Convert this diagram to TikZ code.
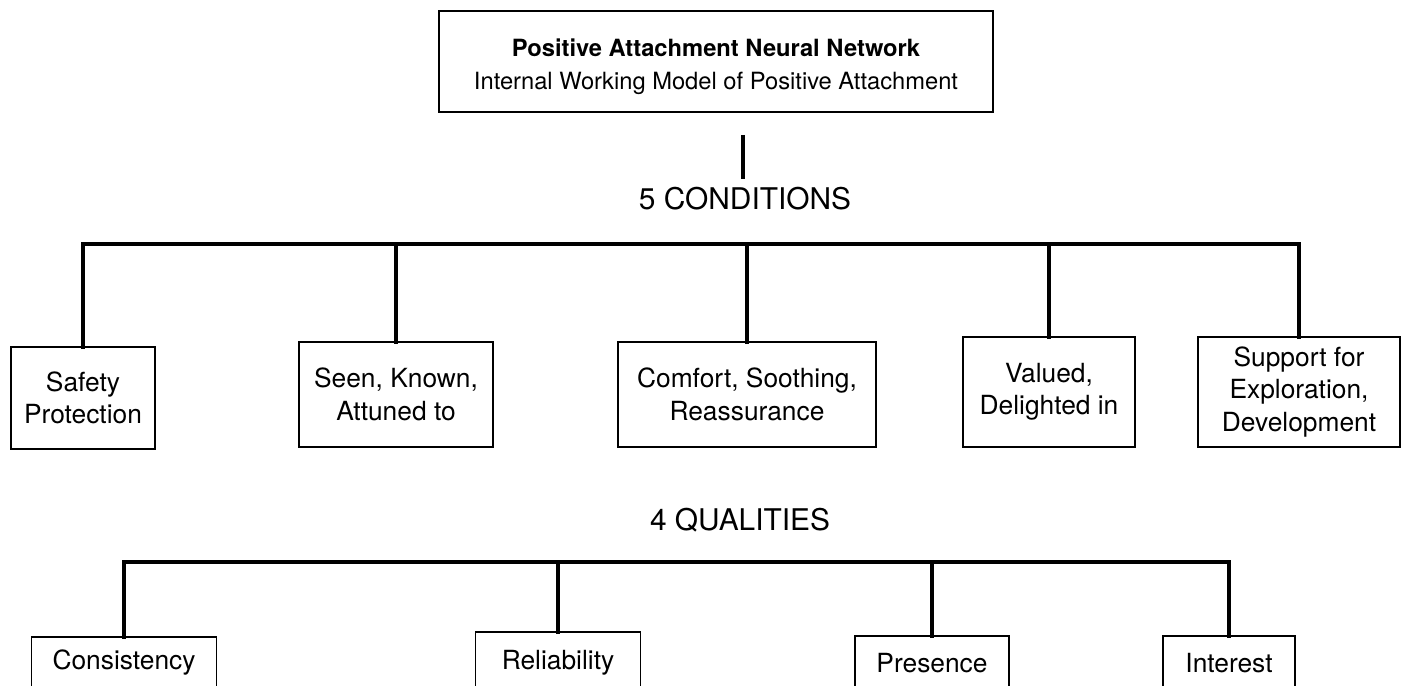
\documentclass[tikz,border=0pt]{standalone}
\usepackage{fontspec}
\setmainfont{TeX Gyre Heros}
\usetikzlibrary{positioning}

\tikzset{
    box/.style={draw, line width=1.1pt, align=center, inner sep=0pt,
        font=\fontsize{15}{18.5}\selectfont},
    headbox/.style={draw, line width=1.5pt, align=center, inner sep=0pt,
        font=\fontsize{13.5}{19}\selectfont},
    heading/.style={font=\fontsize{17}{20}\selectfont, inner sep=0pt},
    bus/.style={line width=2.8pt, line cap=rect},
}

\begin{document}
\begin{tikzpicture}[x=0.02cm, y=-0.02cm, line join=miter]
    % 画面の範囲
    \useasboundingbox (0,0) rectangle (1410,686);
    \clip (0,0) rectangle (1410,686);

    % 最上段
    \node[headbox, minimum width=11.08cm, minimum height=2.02cm] (network) at (716,61.5)
        {\rule{0pt}{16pt}{\bfseries Positive Attachment Neural Network}\\Internal Working Model of Positive Attachment};
    \coordinate (stemtop) at (743,135);
    \coordinate (stembot) at (743,179);
    \draw[line width=2.3pt] (stemtop) -- (stembot);

    % 5 CONDITIONS
    \node[heading] (conditions) at (745,199) {5 CONDITIONS};
    \coordinate (condbus) at (0,244);

    \node[box, minimum width=2.88cm, minimum height=2.04cm] (safety) at (83,398) {Safety\\Protection};
    \node[box, minimum width=3.88cm, minimum height=2.10cm] (seen) at (396,394.5) {Seen, Known,\\Attuned to};
    \node[box, minimum width=5.16cm, minimum height=2.10cm] (comfort) at (747,394.5) {Comfort, Soothing,\\Reassurance};
    \node[box, minimum width=3.44cm, minimum height=2.20cm] (valued) at (1049,392) {Valued,\\Delighted in};
    \node[box, minimum width=4.04cm, minimum height=2.20cm] (support) at (1299,392) {Support for\\Exploration,\\Development};

    \draw[bus] (safety.north |- condbus) -- (support.north |- condbus);
    \foreach \c in {safety, seen, comfort, valued, support}
        \draw[bus] (\c.north |- condbus) -- (\c.north);

    % 4 QUALITIES
    \node[heading] (qualities) at (740,520) {4 QUALITIES};
    \coordinate (qualbus) at (0,562);

    \node[box, minimum width=3.70cm, minimum height=1.04cm] (consistency) at (124,663) {Consistency};
    \node[box, minimum width=3.30cm, minimum height=1.24cm] (reliability) at (558,663) {Reliability};
    \node[box, minimum width=3.08cm, minimum height=1.08cm] (presence) at (932,663) {Presence};
    \node[box, minimum width=2.64cm, minimum height=1.08cm] (interest) at (1229,663) {Interest};

    \draw[bus] (consistency.north |- qualbus) -- (interest.north |- qualbus);
    \foreach \q in {consistency, reliability, presence, interest}
        \draw[bus] (\q.north |- qualbus) -- (\q.north);
\end{tikzpicture}
\end{document}
